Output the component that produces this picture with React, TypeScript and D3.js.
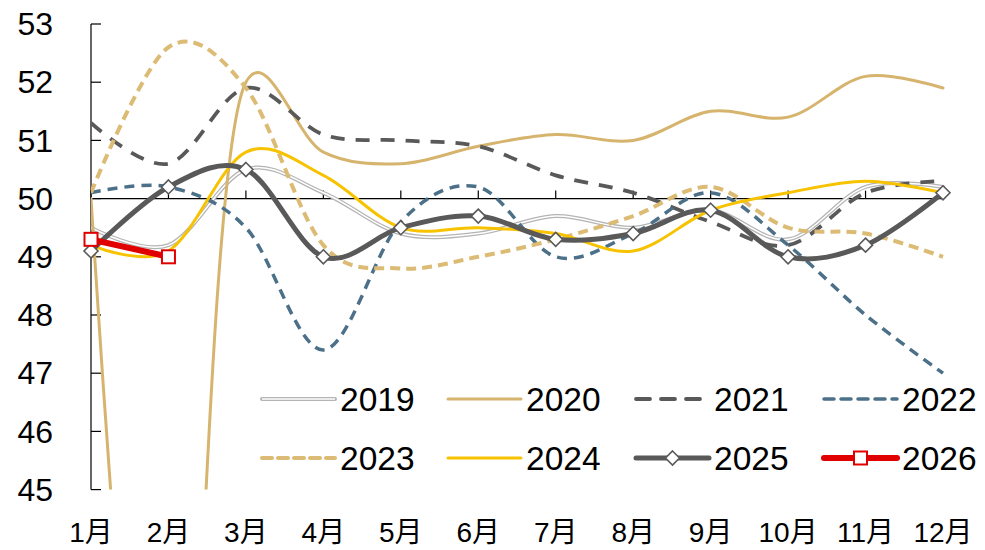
import React from "react";
import * as d3 from "d3";

const months = ["1月", "2月", "3月", "4月", "5月", "6月", "7月", "8月", "9月", "10月", "11月", "12月"];
const yTicks = [45, 46, 47, 48, 49, 50, 51, 52, 53];
const years = ["2019", "2020", "2021", "2022", "2023", "2024", "2025", "2026"];

const pmi2019 = [49.5, 49.2, 50.5, 50.1, 49.4, 49.4, 49.7, 49.5, 49.8, 49.3, 50.2, 50.2];
const pmi2020 = [50.0, 35.7, 52.0, 50.8, 50.6, 50.9, 51.1, 51.0, 51.5, 51.4, 52.1, 51.9];
const pmi2021 = [51.3, 50.6, 51.9, 51.1, 51.0, 50.9, 50.4, 50.1, 49.6, 49.2, 50.1, 50.3];
const pmi2022 = [50.1, 50.2, 49.5, 47.4, 49.6, 50.2, 49.0, 49.4, 50.1, 49.2, 48.0, 47.0];
const pmi2023 = [50.1, 52.6, 51.9, 49.2, 48.8, 49.0, 49.3, 49.7, 50.2, 49.5, 49.4, 49.0];
const pmi2024 = [49.2, 49.1, 50.8, 50.4, 49.5, 49.5, 49.4, 49.1, 49.8, 50.1, 50.3, 50.1];
const pmi2025 = [49.1, 50.2, 50.5, 49.0, 49.5, 49.7, 49.3, 49.4, 49.8, 49.0, 49.2, 50.1];
const pmi2026 = [49.3, 49.0];

const seriesValues = [pmi2019, pmi2020, pmi2021, pmi2022, pmi2023, pmi2024, pmi2025, pmi2026];

// look of each series, same order as years
const smooth = d3.curveCardinal.tension(0);
const looks = [
  { color: "#b4b4b4", width: 4, dash: null, double: true, marker: null, curve: smooth },
  // the Feb 2020 plunge overshoots too much with a plain spline
  { color: "#d6b46e", width: 3, dash: null, double: false, marker: null, curve: d3.curveCatmullRom.alpha(0.3) },
  { color: "#595959", width: 3.8, dash: "14 11", double: false, marker: null, curve: smooth },
  { color: "#4d7089", width: 3.5, dash: "10 7", double: false, marker: null, curve: smooth },
  { color: "#dcbb74", width: 4, dash: "10 6", double: false, marker: null, curve: smooth },
  { color: "#f7c300", width: 3, dash: null, double: false, marker: null, curve: smooth },
  { color: "#595959", width: 5, dash: null, double: false, marker: "diamond", curve: smooth },
  { color: "#e00000", width: 6, dash: null, double: false, marker: "square", curve: smooth },
];

const W = 985, H = 550;
const left = 91, right = 943, top = 24, bottom = 489.6;
const font = "'Liberation Sans', Arial, 'Noto Sans CJK SC', sans-serif";

function Marker({ kind, x, y, color }: { kind: string | null; x: number; y: number; color: string }) {
  if (kind === "diamond") {
    const r = 7;
    return (
      <path
        d={`M${x},${y - r}L${x + r},${y}L${x},${y + r}L${x - r},${y}Z`}
        fill="#fff"
        stroke={color}
        strokeWidth={1.6}
      />
    );
  }
  if (kind === "square") {
    const s = 13;
    return <rect x={x - s / 2} y={y - s / 2} width={s} height={s} fill="#fff" stroke={color} strokeWidth={2} />;
  }
  return null;
}

export default function App() {
  const x = d3.scalePoint<string>().domain(months).range([left, right]);
  const y = d3.scaleLinear().domain([45, 53]).range([bottom, top]);

  const lineFor = (curve: d3.CurveFactory) =>
    d3
      .line<number>()
      .x((d, i) => x(months[i]) as number)
      .y((d) => y(d))
      .curve(curve);

  const legendCols = [262, 448, 636, 824];
  const legendRows = [399, 458];

  return (
    <div style={{ position: "absolute", left: 0, top: 0 }}>
      <svg width={W} height={H} style={{ display: "block", background: "#fff" }}>
        <defs>
          <clipPath id="plot">
            <rect x={left} y={top - 2} width={right - left + 4} height={bottom - top + 2} />
          </clipPath>
        </defs>

        {/* y axis */}
        <line x1={left} x2={left} y1={top} y2={bottom} stroke="#000" strokeWidth={1.2} />
        {yTicks.map((t) => (
          <g key={t}>
            <line x1={left} x2={left + 10} y1={y(t)} y2={y(t)} stroke="#000" strokeWidth={1.2} />
            <text x={53} y={y(t)} dy="0.35em" textAnchor="end" fontFamily={font} fontSize={32} fill="#000">
              {t}
            </text>
          </g>
        ))}

        {/* category axis crossing at 50 */}
        <line x1={left} x2={right} y1={y(50)} y2={y(50)} stroke="#000" strokeWidth={1.2} />
        {months.map((m) => (
          <line key={m} x1={x(m)} x2={x(m)} y1={y(50)} y2={y(50) - 8} stroke="#000" strokeWidth={1.2} />
        ))}
        {months.map((m) => (
          <text key={m} x={x(m)} y={542} textAnchor="middle" fontFamily={font} fontSize={28} fill="#000">
            {m}
          </text>
        ))}

        {/* series */}
        <g clipPath="url(#plot)">
          {seriesValues.map((vals, i) => {
            const lk = looks[i];
            const d = lineFor(lk.curve)(vals) as string;
            return (
              <g key={years[i]}>
                <path
                  d={d}
                  fill="none"
                  stroke={lk.color}
                  strokeWidth={lk.width}
                  strokeDasharray={lk.dash || undefined}
                  strokeLinecap={lk.dash ? "butt" : "round"}
                />
                {lk.double && <path d={d} fill="none" stroke="#fff" strokeWidth={1.5} />}
              </g>
            );
          })}
        </g>
        {seriesValues.map((vals, i) =>
          looks[i].marker
            ? vals.map((v, j) => (
                <Marker key={years[i] + j} kind={looks[i].marker} x={x(months[j]) as number} y={y(v)} color={looks[i].color} />
              ))
            : null
        )}

        {/* legend */}
        {years.map((yr, i) => {
          const lk = looks[i];
          const lx = legendCols[i % 4];
          const ly = legendRows[Math.floor(i / 4)];
          return (
            <g key={yr}>
              <line
                x1={lx}
                x2={lx + 73}
                y1={ly}
                y2={ly}
                stroke={lk.color}
                strokeWidth={lk.width}
                strokeDasharray={lk.dash || undefined}
                strokeLinecap="round"
              />
              {lk.double && <line x1={lx} x2={lx + 73} y1={ly} y2={ly} stroke="#fff" strokeWidth={1.5} />}
              <Marker kind={lk.marker} x={lx + 36.5} y={ly} color={lk.color} />
              <text x={lx + 78} y={ly} dy="0.35em" fontFamily={font} fontSize={33.5} fill="#000">
                {yr}
              </text>
            </g>
          );
        })}
      </svg>
    </div>
  );
}
